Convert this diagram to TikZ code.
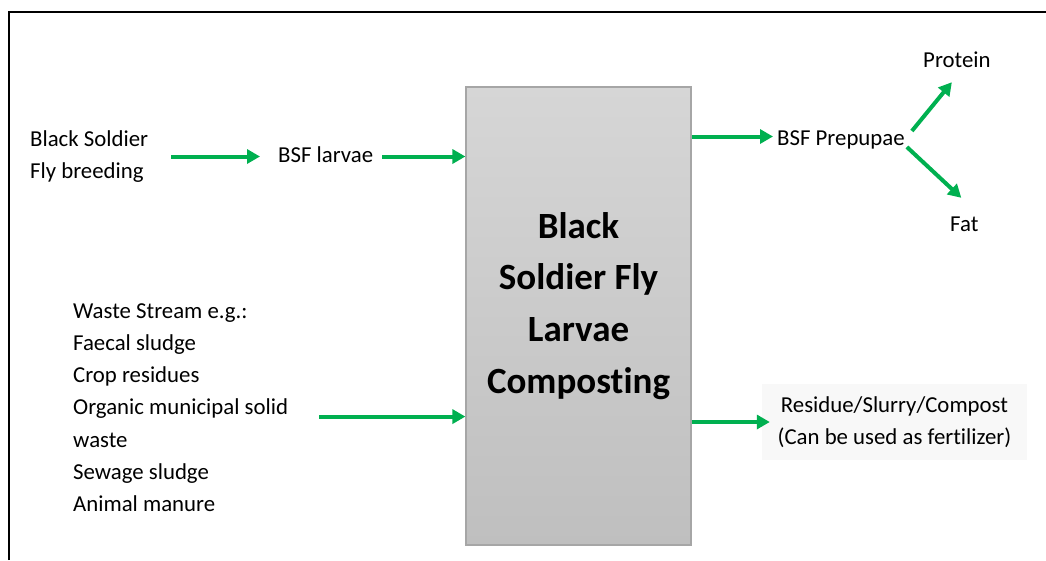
\documentclass[tikz,border=0pt]{standalone}
\usepackage{fontspec}
\setmainfont{Carlito}[Ligatures=NoCommon]
\usetikzlibrary{arrows.meta,positioning}
\definecolor{flowgreen}{RGB}{0,176,80}
\definecolor{boxtop}{RGB}{214,214,214}
\definecolor{boxbot}{RGB}{191,191,191}
\definecolor{boxline}{RGB}{166,166,166}
\definecolor{faint}{RGB}{248,248,248}
\tikzset{
  txt/.style={inner sep=0pt,align=left,font=\fontsize{22.8}{32.3}\selectfont},
  word/.style={txt,text height=16pt,text depth=5pt},
  procbox/.style={draw=boxline,line width=1.2pt,top color=boxtop,bottom color=boxbot,minimum width=225pt,minimum height=458pt,inner sep=0pt},
  proctxt/.style={inner sep=0pt,align=center,font=\bfseries\fontsize{37}{51.7}\selectfont},
  outbox/.style={txt,align=center,fill=faint,minimum width=265pt,minimum height=76pt},
  flow/.style={-{Triangle[length=13pt,width=14pt]},draw=flowgreen,line width=4pt}
}
\begin{document}
\begin{tikzpicture}[x=1pt,y=-1pt]
  \useasboundingbox (0,0) rectangle (1046,560);
  \draw[line width=2pt] (9,560) |- (1046,12);
  \node[procbox] (bsf) at (578.5,316) {};
  \node[proctxt,anchor=north] (bsft) at (578.5,212) {Black\\Soldier Fly\\Larvae\\Composting};
  \node[txt,anchor=north west] (breed) at (30,130) {Black Soldier\\Fly breeding};
  \node[word,anchor=west] (larv) at (278,156.5) {BSF larvae};
  \node[word,anchor=west] (prep) at (777,139.5) {BSF Prepupae};
  \node[word,anchor=west] (prot) at (923,61.5) {Protein};
  \node[word,anchor=west] (fat) at (950,225.5) {Fat};
  \node[txt,anchor=north west] (waste) at (73,303) {Waste Stream e.g.:\\Faecal sludge\\Crop residues\\Organic municipal solid\\waste\\Sewage sludge\\Animal manure};
  \node[outbox] (res) at (894.5,422) {Residue/Slurry/Compost\\(Can be used as fertilizer)};
  \draw[flow,shorten <=23pt,shorten >=18pt] (breed.east |- larv.west) -- (larv.west);
  \draw[flow,shorten <=9pt] (larv.east) -- (larv.east -| bsf.west);
  \draw[flow,shorten >=4pt] ([yshift=3pt]prep.west -| bsf.east) -- ([yshift=3pt]prep.west);
  \draw[flow] ([xshift=7pt,yshift=8.5pt]prep.east) -- ([xshift=-5pt,yshift=-10pt]prot.south);
  \draw[flow] ([xshift=2pt,yshift=-7.5pt]prep.east) -- ([xshift=-3pt,yshift=17pt]fat.north);
  \draw[flow,shorten <=31pt] ([yshift=-9pt]waste.east) -- ([yshift=-9pt]waste.east -| bsf.west);
  \draw[flow,shorten >=-8pt] (res.west -| bsf.east) -- (res.west);
\end{tikzpicture}
\end{document}
